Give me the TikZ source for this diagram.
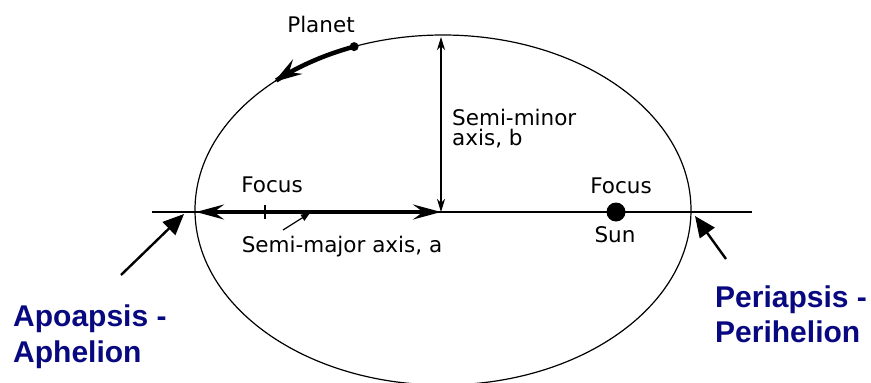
\documentclass[tikz,border=0pt]{standalone}
\usepackage{fontspec}
\usetikzlibrary{arrows.meta}
\newfontfamily\lblfont{DejaVu Sans}
\newfontfamily\bluefont{Liberation Sans}
\definecolor{navy}{RGB}{8,8,128}
\tikzset{
  mybarb/.tip={Stealth[length=28pt,width=15pt,inset=10pt]},
  mysmallbarb/.tip={Stealth[length=13pt,width=8pt,inset=4pt]},
  myplanetbarb/.tip={Stealth[length=28pt,width=17pt,inset=10pt]}
}
\begin{document}
\begin{tikzpicture}[x=1pt,y=-1pt,
  lbl/.style={font=\lblfont\fontsize{21.5}{20}\selectfont,inner sep=0pt},
  blue/.style={font=\bluefont\bfseries\fontsize{30}{34}\selectfont,text=navy,inner sep=0pt,anchor=base west},
  thin/.style={line width=1.2pt},
  pointer/.style={line width=2.4pt,-{Triangle[length=21pt,width=18pt]}}]
\useasboundingbox (0,0) rectangle (871,383);
\clip (0,0) rectangle (871,383);
% orbit
\draw[thin] (443,210) ellipse [x radius=248pt, y radius=175pt];
% major axis line
\coordinate (axL) at (152,212);
\coordinate (axR) at (752,212);
\draw[thin] (axL) -- (axR);
% centre and ends
\coordinate (C) at (441,212);
\coordinate (Lend) at (196,212);
\coordinate (Top) at (441,37);
% semi-major axis
\draw[line width=3.2pt,{mybarb}-{mybarb}] (Lend) -- (C);
% focus tick
\coordinate (ftT) at (265,205);
\coordinate (ftB) at (265,219);
\draw[line width=1.3pt] (ftT) -- (ftB);
% semi-minor axis
\draw[line width=1.2pt,{mysmallbarb}-{mysmallbarb}] (C) -- (Top);
% sun
\node[circle,fill=black,minimum size=19pt,inner sep=0pt] (sun) at (616,212) {};
% planet
\node[circle,fill=black,minimum size=9pt,inner sep=0pt] (planet) at ({443+248*cos(111)},{210-175*sin(111)}) {};
\draw[line width=4.5pt,-{myplanetbarb}]
  plot[domain=111:133,samples=30] ({443+248*cos(\x)},{210-175*sin(\x)});
% labels
\node[lbl,anchor=base] (tPlanet) at (321,32) {Planet};
\node[lbl,anchor=base west,align=left] (tMinor) at (452,145) {Semi-minor\\axis, b};
\node[lbl,anchor=base] (tFocusL) at (272,192) {Focus};
\node[lbl,anchor=base] (tMajor) at (342,252) {Semi-major axis, a};
\node[lbl,anchor=base] (tFocusR) at (621,193) {Focus};
\node[lbl,anchor=base] (tSun) at (615,242) {Sun};
% small pointer from label to axis
\coordinate (mpS) at (283,230);
\coordinate (mpE) at (310,213);
\draw[line width=1.2pt,-{Triangle[length=9pt,width=7pt]}] (mpS) -- (mpE);
% apsis pointers
\coordinate (apoT) at (121,275);
\coordinate (apoH) at (184,214);
\coordinate (periT) at (726,259);
\coordinate (periH) at (695,216);
\draw[pointer] (apoT) -- (apoH);
\draw[pointer] (periT) -- (periH);
% blue labels
\node[blue] (apo1) at (13,326) {Apoapsis -};
\node[blue] (apo2) at (13,362) {Aphelion};
\node[blue] (peri1) at (715,307) {Periapsis -};
\node[blue] (peri2) at (715,342) {Perihelion};
\end{tikzpicture}
\end{document}
